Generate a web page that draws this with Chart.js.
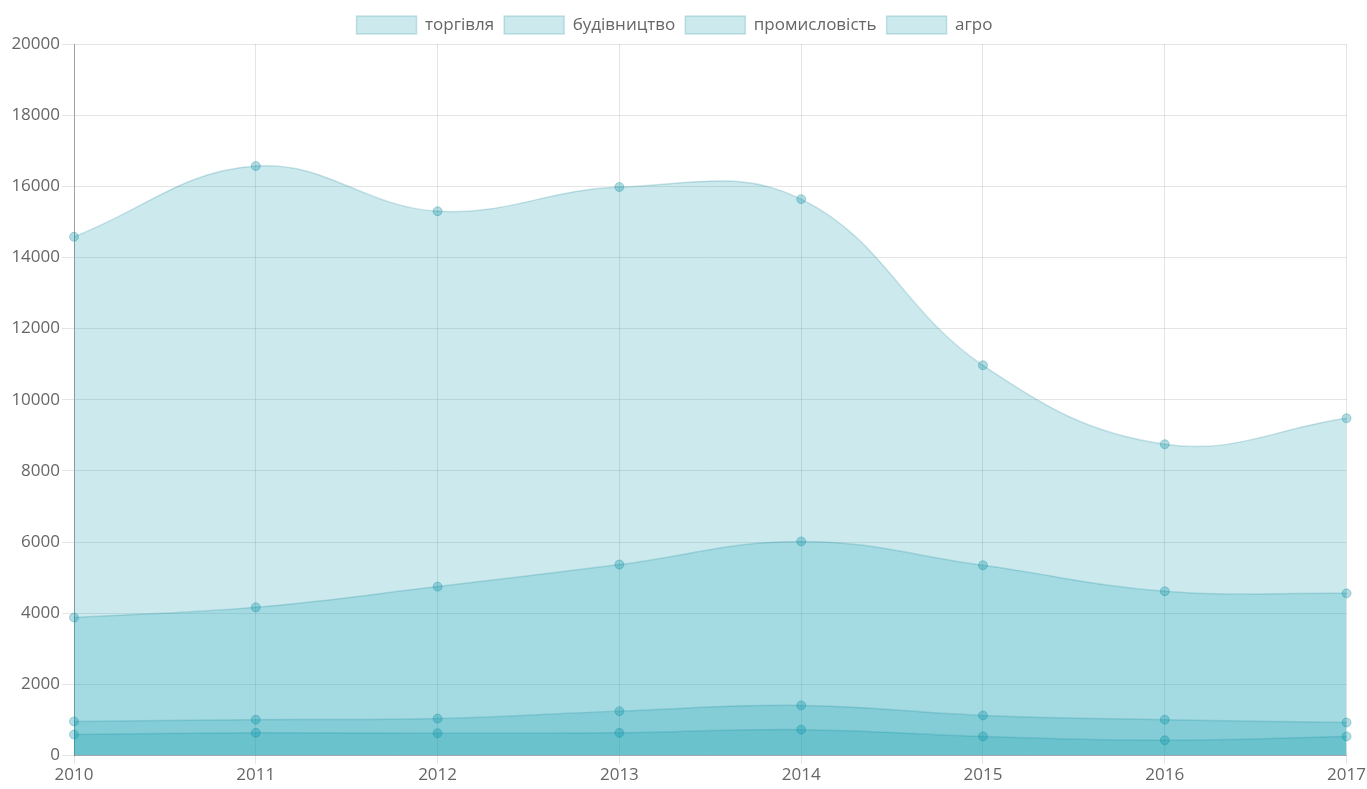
<!DOCTYPE html>
<html>
<head>
<meta charset="utf-8">
<script src="https://cdn.jsdelivr.net/npm/chart.js@4/dist/chart.umd.min.js"></script>
<style>
  html, body { margin: 0; padding: 0; background: #fff; }
  #wrap { width: 1367px; height: 789px; position: relative; }
</style>
</head>
<body>
<div id="wrap"><canvas id="chart"></canvas></div>
<script>
const years = ['2010', '2011', '2012', '2013', '2014', '2015', '2016', '2017'];
const seriesNames = ['торгівля', 'будівництво', 'промисловість', 'агро'];
const torhivlia = [14580, 16570, 15300, 15980, 15640, 10970, 8750, 9480];
const budivnytstvo = [3880, 4170, 4750, 5370, 6020, 5350, 4620, 4560];
const promyslovist = [960, 1010, 1040, 1250, 1410, 1130, 1010, 930];
const ahro = [590, 640, 630, 640, 730, 540, 430, 540];

const fillColor = 'rgba(0, 150, 170, 0.2)';
const fontFamily = 'Open Sans, Arial, sans-serif';

function makeDataset(label, values) {
    return {
        label: label,
        data: values,
        fill: 'origin',
        backgroundColor: fillColor,
        borderColor: 'rgba(0, 120, 140, 0.2)',
        borderWidth: 1.5,
        tension: 0.4,
        pointRadius: 4.5,
        pointBackgroundColor: 'rgba(0, 140, 160, 0.3)',
        pointBorderColor: 'rgba(0, 140, 160, 0.3)',
        pointBorderWidth: 1
    };
}

const allSeries = [torhivlia, budivnytstvo, promyslovist, ahro];

new Chart(document.getElementById('chart').getContext('2d'), {
    type: 'line',
    data: {
        labels: years,
        datasets: seriesNames.map((name, i) => makeDataset(name, allSeries[i]))
    },
    options: {
        responsive: true,
        maintainAspectRatio: false,
        animation: false,
        layout: { padding: { top: 6, right: 18, left: 0, bottom: 3 } },
        plugins: {
            tooltip: { enabled: false },
            legend: {
                position: 'top',
                labels: {
                    color: '#666',
                    font: { family: fontFamily, size: 17 },
                    boxWidth: 60,
                    boxHeight: 18,
                    padding: 10
                }
            }
        },
        scales: {
            x: {
                grid: { color: 'rgba(0,0,0,0.1)', tickLength: 8 },
                border: { color: 'rgba(0,0,0,0.25)' },
                ticks: {
                    color: '#666',
                    font: { family: fontFamily, size: 17 },
                    maxRotation: 0,
                    padding: 1
                }
            },
            y: {
                min: 0,
                max: 20000,
                grid: { color: 'rgba(0,0,0,0.1)', tickLength: 12 },
                border: { color: 'rgba(0,0,0,0.3)' },
                ticks: {
                    stepSize: 2000,
                    color: '#666',
                    font: { family: fontFamily, size: 17 },
                    padding: 2,
                    callback: function (value) { return String(value); }
                },
                afterFit: function (scale) { scale.width = 74; }
            }
        }
    }
});
</script>
</body>
</html>
